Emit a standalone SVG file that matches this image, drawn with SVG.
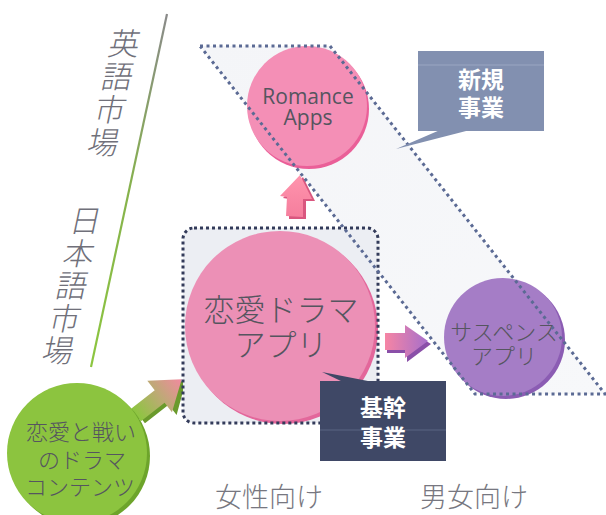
<svg xmlns="http://www.w3.org/2000/svg" width="606" height="515" viewBox="0 0 606 515">
<defs>
<style>
.jp{font-family:"Noto Sans CJK JP","Noto Sans",sans-serif;font-weight:300;}
.lbl{font-family:"Noto Sans CJK JP",sans-serif;font-weight:300;font-size:31px;fill:#70707a;writing-mode:vertical-rl;}
.dark{fill:#55555f;text-anchor:middle;}
.white{fill:#ffffff;font-weight:bold;text-anchor:middle;font-size:23px;}
.axis{fill:#777780;font-size:27px;text-anchor:middle;}
</style>
<linearGradient id="vline" x1="0" y1="0" x2="0" y2="1">
<stop offset="0" stop-color="#8a8a8a"/><stop offset="0.5" stop-color="#86b24c"/><stop offset="1" stop-color="#8cc63f"/>
</linearGradient>
<linearGradient id="hline" x1="0" y1="0" x2="1" y2="0">
<stop offset="0" stop-color="#8cc63f"/><stop offset="1" stop-color="#a0a0a0"/>
</linearGradient>
<linearGradient id="para" x1="0" y1="0" x2="1" y2="1">
<stop offset="0" stop-color="#f4f5f8"/><stop offset="1" stop-color="#f7f8fa"/>
</linearGradient>
<linearGradient id="garrow" x1="0" y1="0" x2="1" y2="0">
<stop offset="0" stop-color="#8cc63f"/><stop offset="0.55" stop-color="#c0a878"/><stop offset="1" stop-color="#f28aa0"/>
</linearGradient>
<linearGradient id="parrow" x1="0" y1="0" x2="1" y2="0">
<stop offset="0" stop-color="#f685a4"/><stop offset="1" stop-color="#a66fcb"/>
</linearGradient>
<linearGradient id="uarrow" x1="0" y1="1" x2="0" y2="0">
<stop offset="0" stop-color="#f57e9d"/><stop offset="1" stop-color="#ff94ad"/>
</linearGradient>
</defs>

<rect width="606" height="515" fill="#ffffff"/>

<!-- axes -->
<g id="axes">
<line x1="167" y1="14" x2="91" y2="367" stroke="url(#vline)" stroke-width="2.2"/>
<line x1="165" y1="468" x2="596" y2="468" stroke="url(#hline)" stroke-width="3"/>
</g>

<g id="label-en-market" transform="skewX(-12)">
<text class="lbl" x="134" y="28" letter-spacing="2">英語市場</text>
</g>
<g id="label-jp-market" transform="skewX(-12)">
<text class="lbl" x="133" y="205" letter-spacing="1.5">日本語市場</text>
</g>
<g id="label-women">
<text class="jp axis" x="269" y="507">女性向け</text>
</g>
<g id="label-all">
<text class="jp axis" x="474" y="507">男女向け</text>
</g>

<!-- new business area fill -->
<g id="new-business-area">
<polygon points="200,46 330,46 605,394 475,394" fill="url(#para)"/>
</g>

<!-- connectors -->
<g id="connectors">
<g transform="translate(136,415) rotate(-38)">
<polygon points="2,-6 32,-6 32,-17 60,4 32,25 32,12 2,12" fill="#6a9a2c"/>
<polygon points="0,-8 30,-8 30,-20 58,0 30,20 30,8 0,8" fill="url(#garrow)"/>
</g>
<polygon points="303,177 315,201 306,201 306,219 289,219 289,199 283,198" fill="#d9577f"/>
<polygon points="300,175 312,199 303,199 303,217 286,216 287,197 280,196" fill="url(#uarrow)"/>
<polygon points="387,336 407,336 407,329 431,344 407,362 407,353 387,353" fill="#8a4fa8"/>
<polygon points="385,333 405,333 405,325 428,341 405,358 405,350 385,350" fill="url(#parrow)"/>
</g>

<!-- core rect -->
<g id="core-area">
<rect x="183" y="228" width="195" height="195" rx="11" fill="#eceef3"/>
</g>

<g id="love-drama-app">
<circle cx="283" cy="329" r="95" fill="#e3679b"/>
<circle cx="280" cy="326" r="95" fill="#ec90b6"/>
<text class="jp dark" font-size="31"><tspan x="281" y="321">恋愛ドラマ</tspan><tspan x="281" y="356">アプリ</tspan></text>
</g>

<g id="romance-apps">
<circle cx="309" cy="109" r="60" fill="#ea5f98"/>
<circle cx="307" cy="106" r="60" fill="#f48fb6"/>
<text font-family="'Open Sans','Noto Sans',sans-serif" font-size="21" fill="#55555f" text-anchor="middle"><tspan x="308" y="104">Romance</tspan><tspan x="308" y="125">Apps</tspan></text>
</g>

<g id="suspense-app">
<circle cx="506" cy="340" r="59" fill="#8b5cb3"/>
<circle cx="503" cy="337" r="59" fill="#a57dc6"/>
<text class="jp dark" font-size="22"><tspan x="504" y="340">サスペンス</tspan><tspan x="504" y="364">アプリ</tspan></text>
</g>

<g id="content-source">
<circle cx="80" cy="456" r="70" fill="#6da42b"/>
<circle cx="77" cy="453" r="70" fill="#8cc43f"/>
<text class="jp dark" font-size="22"><tspan x="81" y="440">恋愛と戦い</tspan><tspan x="82" y="468">のドラマ</tspan><tspan x="80" y="495">コンテンツ</tspan></text>
</g>

<!-- dotted outlines on top -->
<g id="outlines" fill="none" stroke-linecap="butt">
<rect x="183" y="228" width="195" height="195" rx="11" stroke="#333b5a" stroke-width="3" stroke-dasharray="3 3"/>
<polygon points="200,46 330,46 605,394 475,394" stroke="#5b6a94" stroke-width="3" stroke-dasharray="3 3.5"/>
</g>

<g id="callout-new">
<polygon points="396,149 440,130 470,130" fill="#8290b0"/>
<rect x="418" y="51" width="126" height="80" fill="#8290b0"/>
<line x1="418" y1="65" x2="544" y2="65" stroke="#9aa6c2" stroke-width="1"/>
<text class="jp white"><tspan x="481" y="88">新規</tspan><tspan x="481" y="116">事業</tspan></text>
</g>

<g id="callout-core">
<polygon points="322,372 343,382 373,382" fill="#3f4866"/>
<rect x="320" y="381" width="126" height="80" fill="#3f4866"/>
<line x1="320" y1="430" x2="446" y2="430" stroke="#5a6482" stroke-width="1"/>
<text class="jp white"><tspan x="383" y="416">基幹</tspan><tspan x="383" y="446">事業</tspan></text>
</g>
</svg>
